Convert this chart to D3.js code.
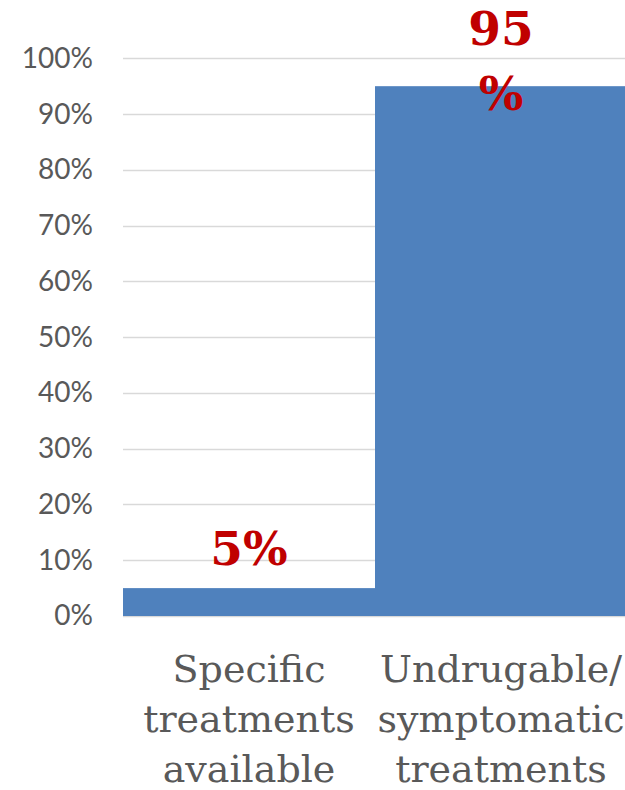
<!DOCTYPE html>
<meta charset="UTF-8">
<style>
  body { margin: 0; background: #fff; }
</style>
<svg xmlns="http://www.w3.org/2000/svg"></svg>
<script src="https://d3js.org/d3.v7.min.js"></script>
<script>
  const WIDTH = 625, HEIGHT = 790;

  const categories = ['Specific treatments available', 'Undrugable/ symptomatic treatments'];
  const categoryLines = [['Specific', 'treatments', 'available'], ['Undrugable/', 'symptomatic', 'treatments']];
  const values = [0.05, 0.95];
  const valueLabelLines = [['5%'], ['95', '%']];
  const yTicks = [0, 0.1, 0.2, 0.3, 0.4, 0.5, 0.6, 0.7, 0.8, 0.9, 1];

  const svg = d3.select('svg')
    .attr('width', WIDTH)
    .attr('height', HEIGHT);

  const x = d3.scaleBand()
    .domain(categories)
    .range([123, 627])
    .padding(0);

  const y = d3.scaleLinear()
    .domain([0, 1])
    .range([616, 58.3]);

  // gridlines
  svg.append('g')
    .selectAll('line')
    .data(yTicks)
    .enter().append('line')
      .attr('x1', 123)
      .attr('x2', WIDTH)
      .attr('y1', d => Math.round(y(d)) + 0.5)
      .attr('y2', d => Math.round(y(d)) + 0.5)
      .attr('stroke', '#d9d9d9')
      .attr('stroke-width', 1.5);

  // y axis labels
  const yAxis = d3.axisLeft(y)
    .tickValues(yTicks)
    .tickFormat(d3.format('.0%'))
    .tickSize(0)
    .tickPadding(0);

  svg.append('g')
    .attr('transform', 'translate(93,0)')
    .call(yAxis)
    .call(g => g.select('.domain').remove())
    .call(g => g.selectAll('text')
      .attr('font-family', 'Lato, sans-serif')
      .attr('font-size', 28)
      .attr('fill', '#595959'));

  // bars
  svg.append('g')
    .selectAll('rect')
    .data(values)
    .enter().append('rect')
      .attr('x', (_, i) => x(categories[i]))
      .attr('y', d => y(d))
      .attr('width', x.bandwidth())
      .attr('height', d => y(0) - y(d))
      .attr('fill', '#4f81bd');

  // value labels (wrapped like the original)
  const labels = svg.append('g')
    .selectAll('text')
    .data(values)
    .enter().append('text')
      .attr('x', (_, i) => x(categories[i]) + x.bandwidth() / 2)
      .attr('y', (d, i) => y(d) - 23 - (valueLabelLines[i].length - 1) * 18)
      .attr('text-anchor', 'middle')
      .attr('font-family', '"DejaVu Serif", serif')
      .attr('font-weight', 'bold')
      .attr('font-size', 47)
      .attr('fill', '#c00000');

  labels.each(function(_, i) {
    const t = d3.select(this);
    valueLabelLines[i].forEach((line, j) => {
      t.append('tspan')
        .attr('x', t.attr('x'))
        .attr('dy', j === 0 ? 0 : 65)
        .text(line);
    });
  });

  // category labels
  const cats = svg.append('g')
    .selectAll('text')
    .data(categories)
    .enter().append('text')
      .attr('x', d => x(d) + x.bandwidth() / 2)
      .attr('y', 682)
      .attr('text-anchor', 'middle')
      .attr('font-family', '"DejaVu Serif", serif')
      .attr('font-size', 38)
      .attr('fill', '#595959');

  cats.each(function(_, i) {
    const t = d3.select(this);
    categoryLines[i].forEach((line, j) => {
      t.append('tspan')
        .attr('x', t.attr('x'))
        .attr('dy', j === 0 ? 0 : 50)
        .text(line);
    });
  });
</script>
